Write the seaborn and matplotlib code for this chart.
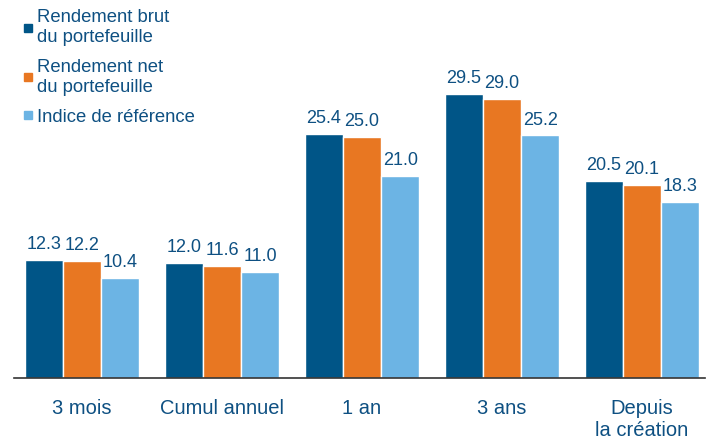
import matplotlib
matplotlib.use("Agg")
import matplotlib.pyplot as plt
import pandas as pd
import seaborn as sns
from matplotlib.lines import Line2D

periodes = ["3 mois", "Cumul annuel", "1 an", "3 ans", "Depuis\nla création"]
series = ["Rendement brut\ndu portefeuille", "Rendement net\ndu portefeuille", "Indice de référence"]
brut = [12.3, 12.0, 25.4, 29.5, 20.5]
net = [12.2, 11.6, 25.0, 29.0, 20.1]
indice = [10.4, 11.0, 21.0, 25.2, 18.3]
couleurs = ["#005587", "#E87722", "#6CB4E4"]
texte = "#0E5082"

df = pd.DataFrame({
    "Periode": periodes * 3,
    "Serie": [series[0]] * 5 + [series[1]] * 5 + [series[2]] * 5,
    "Valeur": brut + net + indice,
})

sns.set_style("white")
plt.rcParams["font.family"] = ["Liberation Sans", "DejaVu Sans"]

fig = plt.figure(figsize=(7.12, 4.41), dpi=100)
ax = fig.add_axes([14 / 712, 63 / 441, 691 / 712, 1 - 63 / 441 - 20 / 441])

sns.barplot(data=df, x="Periode", y="Valeur", hue="Serie", palette=couleurs, saturation=1,
            width=0.82, edgecolor="white", linewidth=1, ax=ax, legend=False)

for cont in ax.containers:
    ax.bar_label(cont, fmt="%.1f", padding=5, color=texte, fontsize=13)

ax.set_xlim(-0.486, 4.45)
ax.set_ylim(0, 37.2)
ax.set_xlabel("")
ax.set_ylabel("")
ax.set_yticks([])
for s in ["top", "right", "left"]:
    ax.spines[s].set_visible(False)
ax.spines["bottom"].set_color("#333333")
ax.spines["bottom"].set_linewidth(1.2)
ax.tick_params(axis="x", length=0, pad=15, labelsize=14.5, labelcolor=texte)

handles = [Line2D([], [], marker="s", linestyle="", markersize=6, color=c) for c in couleurs]
leg = fig.legend(handles, series, loc="upper left", bbox_to_anchor=(21 / 712, 1 - 9 / 441),
                 frameon=False, fontsize=13.3, handletextpad=0.05, labelspacing=0.7,
                 handlelength=0.8, borderaxespad=0, borderpad=0)
for t in leg.get_texts():
    t.set_color(texte)
    t.set_linespacing(1.23)

fig.savefig("out.png", dpi=100)
plt.close(fig)
